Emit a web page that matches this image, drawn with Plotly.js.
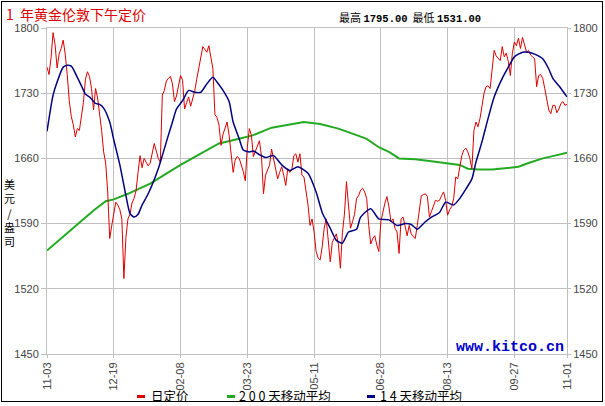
<!DOCTYPE html>
<html><head><meta charset="utf-8">
<script src="https://cdn.plot.ly/plotly-3.0.1.min.js"></script>
<style>
html,body{margin:0;padding:0;background:#fff;}
#wrap{position:relative;width:605px;height:406px;}
#chart{position:absolute;left:0;top:0;width:605px;height:406px;}
#frame{position:absolute;left:1px;top:1px;width:600px;height:399px;border:1px solid #000;pointer-events:none;}
</style>
</head><body>
<div id="wrap"><div id="chart"></div><div id="frame"></div></div>
<script>
// London PM gold fix, one value per trading day (index 0 = 11-03)
const dailyPrice = [
1758,1750,1768,1795,1782,1757,1772,1778,1787,1772,
1750,1722,1705,1696,1683,1692,1690,1705,1720,1745,
1753,1748,1735,1712,1735,1725,1710,1690,1667,1655,
1624,1574,1588,1600,1613,1610,1605,1595,1531,1575,
1595,1600,1612,1617,1625,1645,1663,1650,1660,1656,
1652,1655,1665,1676,1668,1660,1656,1728,1733,1743,
1746,1748,1740,1721,1727,1740,1749,1744,1713,1720,
1726,1716,1725,1732,1745,1758,1767,1780,1777,1774,
1781,1770,1756,1707,1704,1696,1674,1686,1693,1699,
1685,1667,1645,1658,1662,1660,1653,1646,1636,1672,
1692,1685,1662,1668,1675,1679,1662,1622,1642,1648,
1653,1670,1660,1648,1638,1645,1651,1642,1631,1649,
1645,1648,1663,1665,1656,1665,1642,1640,1625,1610,
1588,1595,1581,1560,1553,1551,1565,1585,1595,1572,
1549,1570,1574,1579,1568,1542,1580,1600,1635,1610,
1585,1592,1600,1617,1620,1626,1628,1624,1617,1588,
1568,1574,1577,1567,1560,1592,1603,1612,1619,1608,
1592,1595,1585,1581,1558,1595,1597,1588,1577,1588,
1579,1576,1574,1588,1606,1620,1621,1622,1619,1597,
1603,1610,1615,1614,1615,1620,1624,1615,1599,1605,
1608,1617,1640,1638,1650,1663,1669,1671,1667,1660,
1649,1690,1699,1694,1703,1717,1730,1737,1738,1735,
1753,1776,1770,1767,1765,1780,1769,1773,1764,1749,
1773,1785,1781,1789,1778,1790,1783,1774,1776,1771,
1769,1767,1737,1749,1750,1746,1735,1724,1712,1708,
1717,1717,1709,1713,1719,1721,1717,1718
];

// 14-day moving average (read points: trading-day index, value)
const ma14Day = [0,3,5,8,10,12,15,17,19,21,24,26,28,31,33,36,39,41,43,45,47,50,
  55,57,60,62,64,67,70,73,76,79,82,84,87,90,92,95,97,100,102,105,108,112,116,120,124,129,133,136,140,143,146,149,153,
  155,160,164,169,173,177,180,183,187,190,194,197,201,204,207,210,212,215,218,221,225,228,231,235,238,241,245,248,250,253,257];
const ma14 = [1689,1728,1742,1758,1760,1759,1747,1738,1729,1726,1719,1718,1714,1699,1680,1653,1620,1601,1597,1600,1610,1622,
  1649,1663,1685,1699,1713,1722,1733,1731,1731,1740,1747,1742,1733,1721,1699,1681,1669,1667,1668,1664,1661,1663,1653,1647,1651,1644,1624,1602,1585,1572,1569,1581,1584,
  1597,1606,1595,1594,1588,1590,1589,1584,1592,1597,1602,1613,1610,1617,1627,1638,1656,1678,1703,1726,1746,1758,1769,1774,1774,1772,1767,1756,1746,1738,1726];

// 200-day moving average (read points)
const ma200Day = [0,7,15,23,29,33,40,51,66,85,95,102,111,121,127,135,144,153,158,164,169,174,182,190,198,204,208,213,220,228,233,238,245,251,257];
const ma200 = [1561,1574,1589,1604,1614,1616,1622,1633,1653,1676,1681,1685,1693,1697,1699,1697,1692,1685,1681,1672,1667,1660,1659,1657,1655,1653,1649,1648,1648,1650,1651,1655,1660,1663,1666];

const tickIdx  = [0,33,66,99,132,165,198,231,257];
const tickText = ['11-03','12-19','02-08','03-23','05-11','06-28','08-13','09-27','11-01'];
const yTicks = [1450,1520,1590,1660,1730,1800];

const NB = '\u00a0';
const titleText = '1' + NB + NB + '年黄金伦敦下午定价';
const highLabel = '最高', highValue = '1795.00';
const lowLabel = '最低', lowValue = '1531.00';
const yTitleChars = ['美','元','/','盎','司'];
const legendNames = ['日定价','2'+NB+'0'+NB+'0'+NB+'天移动平均','1'+NB+'4'+NB+'天移动平均'];
const watermark = 'www.kitco.cn';

const RED='#dd0000', GREEN='#22aa22', BLUE='#000080';

// pixel helpers (plot area 47..567 x 28..354)
const L=47, R=38, T=28, B=52, W=605, H=406;
const pw=W-L-R, ph=H-T-B;
const px = x => (x-L)/pw;
const py = y => (H-B-y)/ph;

const dayIdx = dailyPrice.map((_,i)=>i);

const traces = [
  {x: ma200Day, y: ma200, type:'scatter', mode:'lines', line:{color:GREEN, width:2}, xaxis:'x', yaxis:'y', name:legendNames[1]},
  {x: dayIdx, y: dailyPrice, type:'scatter', mode:'lines', line:{color:RED, width:1}, xaxis:'x', yaxis:'y2', name:legendNames[0]},
  {x: ma14Day, y: ma14, type:'scatter', mode:'lines', line:{color:BLUE, width:1.5, shape:'spline', smoothing:0.6}, xaxis:'x', yaxis:'y2', name:legendNames[2]}
];

const tickFont = {family:'Liberation Sans, Arial, sans-serif', size:11, color:'#444'};
const cjk = 'Noto Sans CJK SC, sans-serif';
const numSpan = v => '<b><span style="font-family:Liberation Mono;font-size:10.5px">'+v+'</span></b>';

const annotations = [
  {text:titleText, x:px(4), y:py(14), xref:'paper', yref:'paper', xanchor:'left', yanchor:'middle', showarrow:false, font:{family:cjk, size:14, color:RED}},
  {text:highLabel+NB+numSpan(highValue)+NB+NB+lowLabel+NB+numSpan(lowValue),
   x:px(337), y:py(17), xref:'paper', yref:'paper', xanchor:'left', yanchor:'middle', showarrow:false, font:{family:cjk, size:11, color:'#000'}},
  {text:'<b>'+watermark+'</b>', x:px(454), y:py(347), xref:'paper', yref:'paper', xanchor:'left', yanchor:'middle', showarrow:false, font:{family:'Liberation Mono, monospace', size:15, color:'#0000cc'}},
  {text:yTitleChars.join('<br>'), x:px(9), y:py(212), xref:'paper', yref:'paper', xanchor:'center', yanchor:'middle', align:'center', showarrow:false, borderpad:0, font:{family:cjk, size:11, color:'#000'}}
];
const legX = [149, 237, 378];
const legDash = [137, 227, 367];
const legCol = [RED, GREEN, BLUE];
legendNames.forEach((n,i)=>annotations.push({text:n, x:px(legX[i]), y:py(395), xref:'paper', yref:'paper', xanchor:'left', yanchor:'middle', showarrow:false, font:{family:cjk, size:12.5, color:'#000'}}));
const shapes = legendNames.map((n,i)=>({type:'rect', xref:'paper', yref:'paper', x0:px(legDash[i]), x1:px(legDash[i]+8), y0:py(398), y1:py(395), fillcolor:legCol[i], line:{width:0}}));

const layout = {
  width:W, height:H, margin:{l:L, r:R, t:T, b:B, pad:0},
  paper_bgcolor:'#fff', plot_bgcolor:'#fff', showlegend:false,
  xaxis:{range:[0,257], tickmode:'array', tickvals:tickIdx, ticktext:tickText, tickangle:-90,
    showgrid:true, gridcolor:'#c0c0c0', gridwidth:1, zeroline:false, showline:true, linecolor:'#c0c0c0', mirror:true,
    ticks:'outside', ticklen:3, tickcolor:'#c0c0c0', tickfont:tickFont, fixedrange:true},
  yaxis:{range:[1450,1800], tickmode:'array', tickvals:yTicks, showgrid:true, gridcolor:'#c0c0c0', zeroline:false,
    showline:true, linecolor:'#c0c0c0', mirror:true, ticks:'outside', ticklen:5, tickcolor:'#c0c0c0', tickfont:tickFont, fixedrange:true},
  yaxis2:{range:[1450,1800], overlaying:'y', side:'right', tickmode:'array', tickvals:yTicks, showgrid:false, zeroline:false,
    ticks:'outside', ticklen:3, tickcolor:'#c0c0c0', tickfont:tickFont, fixedrange:true},
  annotations:annotations, shapes:shapes
};
Plotly.newPlot('chart', traces, layout, {staticPlot:true, displayModeBar:false});
</script>
</body></html>
